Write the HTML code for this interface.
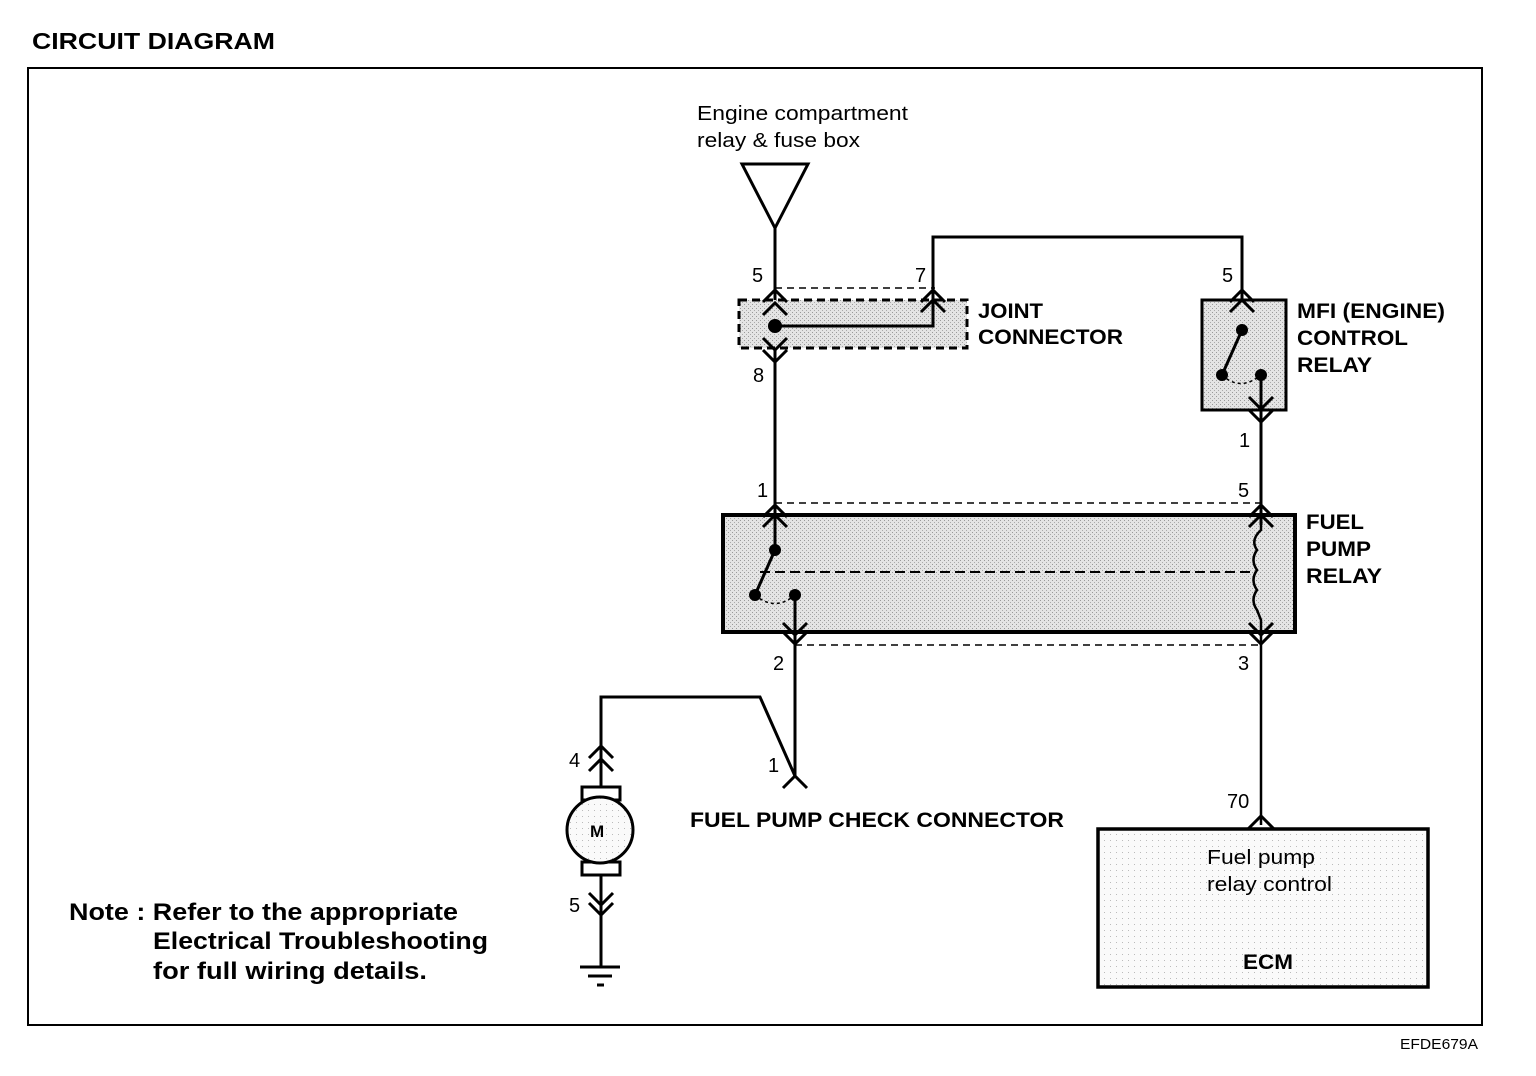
<!DOCTYPE html>
<html><head><meta charset="utf-8"><style>
html,body{margin:0;padding:0;background:#fff;}
svg{display:block;}
text{font-family:"Liberation Sans",Arial,sans-serif;fill:#000;}
.b{font-weight:bold;}
</style></head><body>
<svg width="1536" height="1076" viewBox="0 0 1536 1076" xmlns="http://www.w3.org/2000/svg">
<defs>
<pattern id="dots" width="4" height="4" patternUnits="userSpaceOnUse">
<rect width="4" height="4" fill="#e4e4e4"/><rect width="1" height="1" fill="#999"/><rect x="2" y="2" width="1" height="1" fill="#aaa"/>
</pattern>
<pattern id="light" width="6" height="6" patternUnits="userSpaceOnUse">
<rect width="6" height="6" fill="#fafafa"/><rect width="1" height="1" fill="#bbb"/>
</pattern>
</defs>
<text x="32" y="49" class="b" font-size="23" textLength="243" lengthAdjust="spacingAndGlyphs">CIRCUIT DIAGRAM</text>
<rect x="28" y="68" width="1454" height="957" fill="none" stroke="#000" stroke-width="2"/>

<text x="697" y="120" font-size="20" textLength="211" lengthAdjust="spacingAndGlyphs">Engine compartment</text>
<text x="697" y="147" font-size="20" textLength="163" lengthAdjust="spacingAndGlyphs">relay &amp; fuse box</text>
<polygon points="742,164 808,164 775,228" fill="none" stroke="#000" stroke-width="3"/>

<g stroke="#000" stroke-width="3" fill="none">
<line x1="775" y1="228" x2="775" y2="515"/>
<rect x="739" y="300" width="228" height="48" fill="url(#dots)" stroke-dasharray="8,5"/>
<line x1="775" y1="288" x2="935" y2="288" stroke-width="1.5" stroke-dasharray="7,5"/>
<polyline points="775,326 933,326 933,237 1242,237 1242,330"/>
<polyline points="763,302 775,290 787,302"/>
<polyline points="763,315 775,303 787,315"/>
<polyline points="763,338 775,350 787,338"/>
<polyline points="763,350 775,362 787,350"/>
<polyline points="921,302 933,290 945,302"/>
<polyline points="921,312 933,300 945,312"/>
<rect x="1202" y="300" width="84" height="110" fill="url(#dots)"/>
<polyline points="1230,302 1242,290 1254,302"/>
<polyline points="1230,312 1242,300 1254,312"/>
<line x1="1242" y1="330" x2="1222" y2="375"/>
<path d="M1222,375 Q1240,392 1261,375" stroke-width="1.5" stroke-dasharray="3,3"/>
<line x1="1261" y1="375" x2="1261" y2="505"/>
<polyline points="1249,397 1261,409 1273,397"/>
<polyline points="1249,410 1261,422 1273,410"/>
<line x1="775" y1="503" x2="1261" y2="503" stroke-width="1.5" stroke-dasharray="7,5"/>
<line x1="795" y1="645" x2="1261" y2="645" stroke-width="1.5" stroke-dasharray="7,5"/>
<rect x="723" y="515" width="572" height="117" fill="url(#dots)" stroke-width="4"/>
<line x1="760" y1="572" x2="1255" y2="572" stroke-width="2" stroke-dasharray="10,5"/>
<line x1="775" y1="503" x2="775" y2="550"/>
<polyline points="763,517 775,505 787,517"/>
<polyline points="763,527 775,515 787,527"/>
<line x1="775" y1="550" x2="755" y2="595"/>
<path d="M755,595 Q775,612 795,595" stroke-width="1.5" stroke-dasharray="3,3"/>
<line x1="795" y1="595" x2="795" y2="776"/>
<polyline points="783,623 795,635 807,623"/>
<polyline points="783,632 795,644 807,632"/>
<line x1="1261" y1="410" x2="1261" y2="525"/>
<polyline points="1249,517 1261,505 1273,517"/>
<polyline points="1249,527 1261,515 1273,527"/>
<path d="M1261,525 L1261,530 Q1250,540 1257,550 Q1250,560 1257,570 Q1250,580 1257,590 Q1250,600 1257,610 L1261,620 L1261,825" stroke-width="2.5"/>
<polyline points="1249,623 1261,635 1273,623"/>
<polyline points="1249,632 1261,644 1273,632"/>
<polyline points="601,770 601,697 760,697 795,776"/>
<polyline points="783,788 795,776 807,788"/>
<polyline points="589,758 601,746 613,758"/>
<polyline points="589,771 601,759 613,771"/>
<rect x="582" y="787" width="38" height="13" fill="#fff"/>
<rect x="582" y="862" width="38" height="13" fill="#fff"/>
<line x1="601" y1="770" x2="601" y2="787"/>
<circle cx="600" cy="830" r="33" fill="url(#light)"/>
<line x1="601" y1="875" x2="601" y2="967"/>
<polyline points="589,893 601,905 613,893"/>
<polyline points="589,903 601,915 613,903"/>
<line x1="580" y1="967" x2="620" y2="967"/>
<line x1="588" y1="976" x2="612" y2="976"/>
<line x1="597" y1="985" x2="604" y2="985"/>
<rect x="1098" y="829" width="330" height="158" fill="url(#light)" stroke-width="3.5"/>
<polyline points="1248,829 1261,816 1274,829"/>
</g>
<g fill="#000">
<circle cx="775" cy="326" r="7"/>
<circle cx="1242" cy="330" r="6"/><circle cx="1222" cy="375" r="6"/><circle cx="1261" cy="375" r="6"/>
<circle cx="775" cy="550" r="6"/><circle cx="755" cy="595" r="6"/><circle cx="795" cy="595" r="6"/>
</g>
<g font-size="20">
<text x="752" y="282">5</text><text x="915" y="282">7</text><text x="1222" y="282">5</text>
<text x="753" y="382">8</text><text x="1239" y="447">1</text>
<text x="757" y="497">1</text><text x="1238" y="497">5</text>
<text x="773" y="670">2</text><text x="1238" y="670">3</text>
<text x="569" y="767">4</text><text x="768" y="772">1</text><text x="569" y="912">5</text>
<text x="1227" y="808">70</text>
<text x="1207" y="864" textLength="108" lengthAdjust="spacingAndGlyphs">Fuel pump</text>
<text x="1207" y="891" textLength="125" lengthAdjust="spacingAndGlyphs">relay control</text>
</g>
<text x="590" y="837" class="b" font-size="17">M</text>
<g class="b" font-size="21">
<text x="978" y="318" textLength="65" lengthAdjust="spacingAndGlyphs">JOINT</text>
<text x="978" y="344" textLength="145" lengthAdjust="spacingAndGlyphs">CONNECTOR</text>
<text x="1297" y="318" textLength="148" lengthAdjust="spacingAndGlyphs">MFI (ENGINE)</text>
<text x="1297" y="345" textLength="111" lengthAdjust="spacingAndGlyphs">CONTROL</text>
<text x="1297" y="372" textLength="75" lengthAdjust="spacingAndGlyphs">RELAY</text>
<text x="1306" y="529" textLength="58" lengthAdjust="spacingAndGlyphs">FUEL</text>
<text x="1306" y="556" textLength="65" lengthAdjust="spacingAndGlyphs">PUMP</text>
<text x="1306" y="583" textLength="76" lengthAdjust="spacingAndGlyphs">RELAY</text>
<text x="690" y="827" textLength="374" lengthAdjust="spacingAndGlyphs">FUEL PUMP CHECK CONNECTOR</text>
<text x="1243" y="969" textLength="50" lengthAdjust="spacingAndGlyphs">ECM</text>
</g>
<g class="b" font-size="24">
<text x="69" y="920" textLength="389" lengthAdjust="spacingAndGlyphs">Note : Refer to the appropriate</text>
<text x="153" y="949" textLength="335" lengthAdjust="spacingAndGlyphs">Electrical Troubleshooting</text>
<text x="153" y="979" textLength="274" lengthAdjust="spacingAndGlyphs">for full wiring details.</text>
</g>
<text x="1400" y="1049" font-size="15" textLength="78" lengthAdjust="spacingAndGlyphs">EFDE679A</text>
</svg>
</body></html>
